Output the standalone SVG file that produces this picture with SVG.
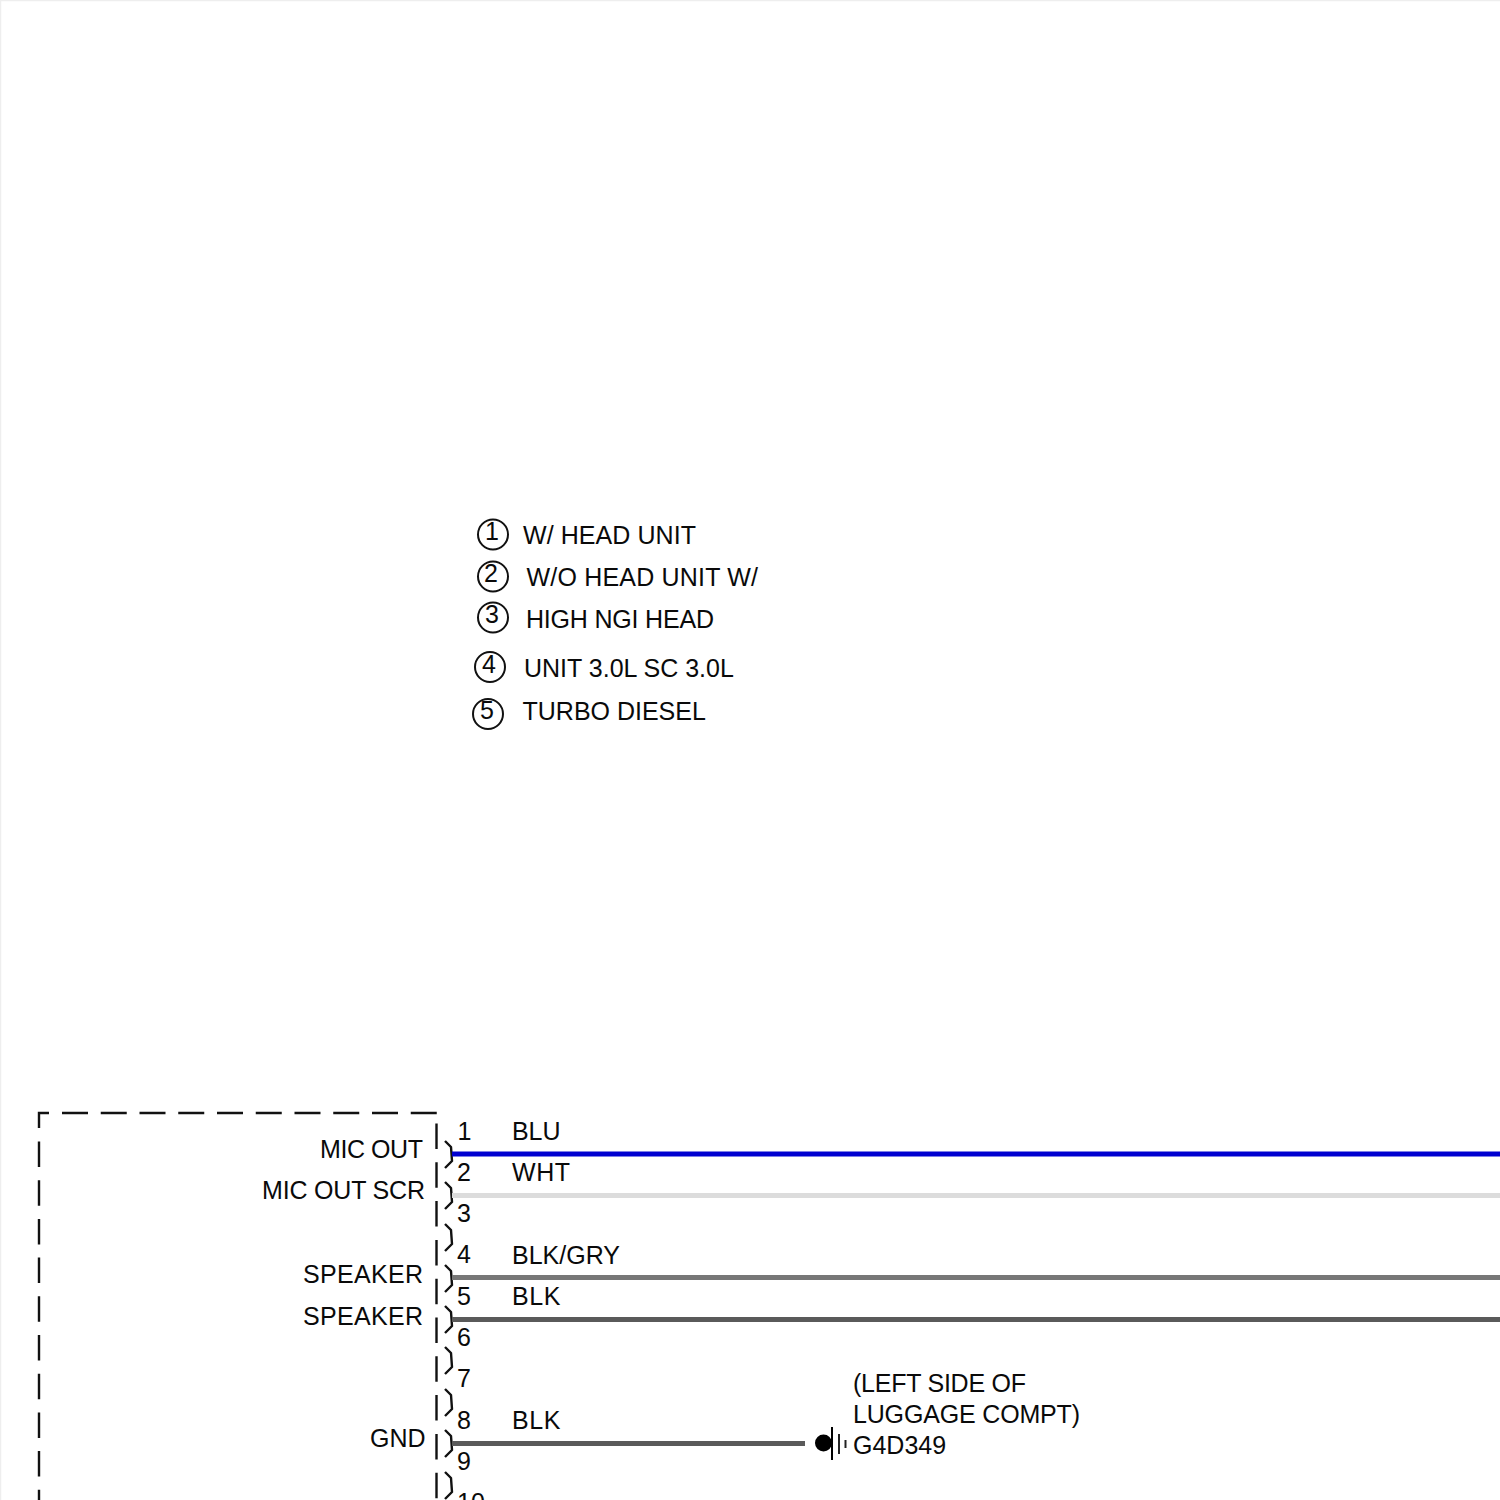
<svg xmlns="http://www.w3.org/2000/svg" width="1500" height="1500" viewBox="0 0 1500 1500">
<style>
text{font-family:"Liberation Sans",Arial,sans-serif;font-size:25px;fill:#0a0a0a}
.c{fill:none;stroke:#111;stroke-width:2}
.ch{fill:none;stroke:#111;stroke-width:2.400;stroke-linejoin:round}
.dash{fill:none;stroke:#111;stroke-width:2.400}
.wire{fill:none;stroke-width:5}
</style>
<rect width="1500" height="1500" fill="#fff"/>
<path d="M0 0.500H1500M0.500 0V1500" stroke="#eee" stroke-width="1.500" fill="none"/>
<g id="legend">
<g id="note1"><circle class="c" cx="493" cy="534.500" r="15"/><text x="485" y="540">1</text><text x="523" y="544" textLength="173" lengthAdjust="spacing">W/ HEAD UNIT</text></g>
<g id="note2"><circle class="c" cx="493" cy="576.500" r="15"/><text x="484" y="582">2</text><text x="526.500" y="586" textLength="231.500" lengthAdjust="spacing">W/O HEAD UNIT W/</text></g>
<g id="note3"><circle class="c" cx="493" cy="617.500" r="15"/><text x="485" y="623">3</text><text x="526" y="628" textLength="188" lengthAdjust="spacing">HIGH NGI HEAD</text></g>
<g id="note4"><circle class="c" cx="490" cy="667" r="15"/><text x="482" y="673">4</text><text x="524" y="677">UNIT 3.0L SC 3.0L</text></g>
<g id="note5"><circle class="c" cx="488" cy="714" r="15"/><text x="480" y="719">5</text><text x="522.500" y="720">TURBO DIESEL</text></g>
</g>
<g id="module">
<path class="dash" d="M39 1128V1113H49"/>
<path class="dash" d="M62 1113H437" stroke-dasharray="26 12.750"/>
<path class="dash" d="M39 1141.500V1500" stroke-dasharray="25.500 13.200"/>
<path class="dash" d="M436.500 1123.500V1500" stroke-dasharray="25.500 13.300"/>
<text x="320" y="1158" textLength="103" lengthAdjust="spacing">MIC OUT</text>
<text x="262" y="1199" textLength="163" lengthAdjust="spacing">MIC OUT SCR</text>
<text x="303" y="1283" textLength="120" lengthAdjust="spacing">SPEAKER</text>
<text x="303" y="1325" textLength="120" lengthAdjust="spacing">SPEAKER</text>
<text x="370" y="1447">GND</text>
</g>
<g id="connector">
<path class="ch" d="M445 1141L451 1147L452 1161L445 1168"/>
<path class="ch" d="M445 1182L451 1188L452 1202L445 1209"/>
<path class="ch" d="M445 1224L451 1230L452 1244L445 1251"/>
<path class="ch" d="M445 1265L451 1271L452 1285L445 1292"/>
<path class="ch" d="M445 1306L451 1312L452 1326L445 1333"/>
<path class="ch" d="M445 1347L451 1353L452 1367L445 1374"/>
<path class="ch" d="M445 1389L451 1395L452 1409L445 1416"/>
<path class="ch" d="M445 1430L451 1436L452 1450L445 1457"/>
<path class="ch" d="M445 1472L451 1478L452 1492L445 1499"/>
<text x="457.500" y="1140">1</text>
<text x="457" y="1181">2</text>
<text x="457" y="1222">3</text>
<text x="457" y="1263">4</text>
<text x="457" y="1305">5</text>
<text x="457" y="1346">6</text>
<text x="457" y="1387">7</text>
<text x="457" y="1429">8</text>
<text x="457" y="1470">9</text>
<text x="457" y="1511">10</text>
</g>
<g id="connectors">
<path class="wire" stroke="#0000d0" d="M452 1154H1500"/>
<path class="wire" stroke="#dcdcdc" d="M452 1195.500H1500"/>
<path class="wire" stroke="#777" d="M452 1277.500H1500"/>
<path class="wire" stroke="#5a5a5a" d="M452 1319.500H1500"/>
<path class="wire" stroke="#5a5a5a" d="M452 1443.500H805"/>
</g>
<g id="wire-labels">
<text x="512" y="1140" textLength="48.500" lengthAdjust="spacing">BLU</text>
<text x="512" y="1181" textLength="58" lengthAdjust="spacing">WHT</text>
<text x="512" y="1264">BLK/GRY</text>
<text x="512" y="1305" textLength="48.500" lengthAdjust="spacing">BLK</text>
<text x="512" y="1429" textLength="48.500" lengthAdjust="spacing">BLK</text>
</g>
<g id="ground">
<circle cx="823.500" cy="1443" r="8.500" fill="#000"/>
<path d="M832 1427V1460" stroke="#000" stroke-width="2" fill="none"/>
<path d="M839 1434V1454" stroke="#222" stroke-width="2" fill="none"/>
<path d="M845.500 1440V1448" stroke="#222" stroke-width="2" fill="none"/>
<text x="853" y="1392" textLength="173" lengthAdjust="spacing">(LEFT SIDE OF</text>
<text x="853" y="1423" textLength="227" lengthAdjust="spacing">LUGGAGE COMPT)</text>
<text x="853" y="1454">G4D349</text>
</g>
</svg>
